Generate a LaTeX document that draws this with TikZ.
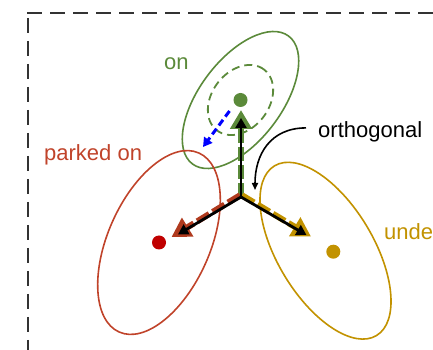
\documentclass[tikz,border=0pt]{standalone}
\usepackage{fontspec}
\setmainfont{Liberation Sans}
\usetikzlibrary{arrows.meta}
\definecolor{gr}{HTML}{5B8A3A}
\definecolor{rd}{HTML}{C0432A}
\definecolor{rdarr}{HTML}{B03A1E}
\definecolor{rdot}{HTML}{C00000}
\definecolor{gd}{HTML}{C29200}
\definecolor{bx}{HTML}{333333}
\begin{document}
\begin{tikzpicture}[x=1pt,y=1pt,
  lbl/.style={font=\fontsize{22}{26}\selectfont, inner sep=0pt, anchor=base west},
  dotn/.style={circle, minimum size=14pt, inner sep=0pt},
  ell/.style={line width=1.6pt},
  boxline/.style={bx, line width=2pt, dash pattern=on 15pt off 8pt},
  cline/.style={line width=6pt, dash pattern=on 14pt off 4pt, -{Triangle[length=19pt,width=21pt]}},
  karrow/.style={black, line width=2.8pt, -{Triangle[length=10pt,width=11pt]}},
]
\useasboundingbox (0,0) rectangle (433,350);
% dashed frame
\draw[boxline] (28,332) -- (28,0);
\draw[boxline] (27,337) -- (433,337);
% ellipses
\draw[gr, ell] (240.5,250) ellipse [x radius=80pt, y radius=41pt, rotate=53];
\draw[gr, line width=1.8pt, dash pattern=on 8pt off 5pt] (240.5,250) ellipse [x radius=38.5pt, y radius=28.5pt, rotate=52];
\draw[rd, ell] (159,107.5) ellipse [x radius=98pt, y radius=51pt, rotate=66];
\draw[gd, ell] (325.5,99.3) ellipse [x radius=99pt, y radius=48pt, rotate=121];
% dots
\node[dotn, fill=gr] (gdot) at (240.5,250) {};
\node[dotn, fill=rdot] (rdotn) at (159,107.5) {};
\node[dotn, fill=gd] (ydot) at (333.3,98.3) {};
% arrows
\coordinate (v) at (241,153);
\coordinate (gt) at (241,240);
\coordinate (gk) at (241,232);
\coordinate (rt) at (171.5,113);
\coordinate (rk) at (178,115.6);
\coordinate (yt) at (311,113.5);
\coordinate (yk) at (306.5,115);
\draw[cline, gr] (v) -- (gt);
\draw[cline, rdarr] ([shift={(-1,1.7)}]v) -- (rt);
\draw[cline, gd] ([shift={(1,1.7)}]v) -- (yt);
\draw[karrow] (v) -- (gk);
\draw[karrow] (v) -- (rk);
\draw[karrow] (v) -- (yk);
% blue dashed arrow
\coordinate (bs) at (229.5,239);
\coordinate (bt) at (203,203);
\draw[blue, line width=3pt, dash pattern=on 7pt off 4pt, -{Triangle[length=9pt,width=10pt]}] (bs) -- (bt);
% labels
\node[lbl, gr] (lon) at (164,280) {on};
\node[lbl, rd] (lpark) at (44,189) {parked on};
\node[lbl, gd] (lunder) at (384,110) {unde};
\node[lbl, black] (orth) at (318,212) {orthogonal};
\coordinate (ot) at (255,160);
\draw[black, line width=1.6pt, -{Triangle[length=7pt,width=6pt]}] ([xshift=-12pt,yshift=4.4pt]orth.west) .. controls +(-36,0) and +(0,35) .. (ot);
\end{tikzpicture}
\end{document}
